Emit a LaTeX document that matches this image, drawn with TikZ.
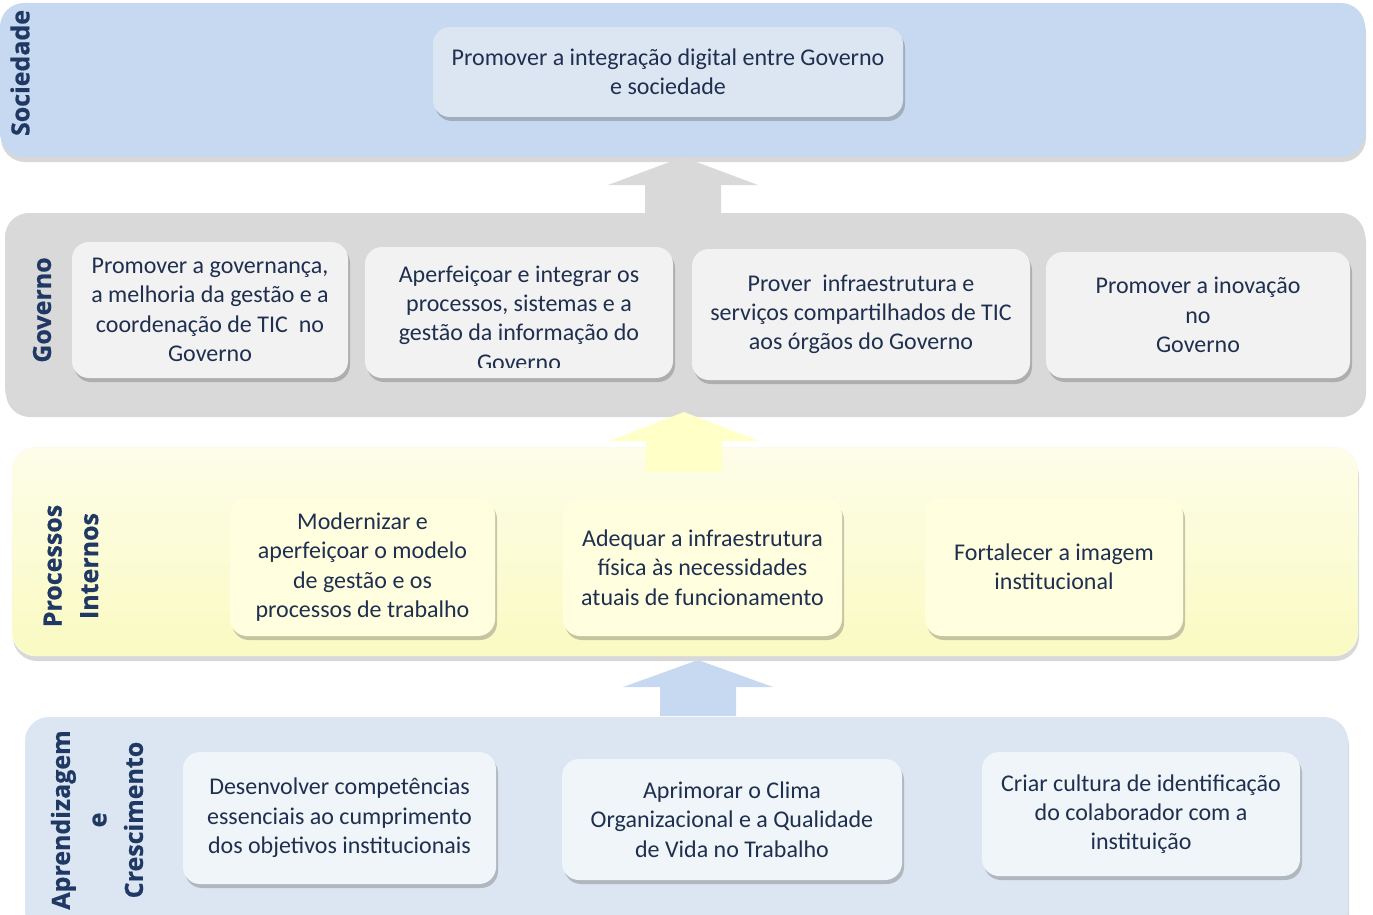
\documentclass[tikz,border=0pt]{standalone}
\usepackage{fontspec}
\setmainfont{Carlito}
\newfontfamily\lblfont{Open Sans}[BoldFeatures={FakeBold=0.6}]
\usepackage{tikz}
\usetikzlibrary{shadows}
\usepackage{xcolor}

\definecolor{socfill}{HTML}{C6D9F0}
\definecolor{socbox}{HTML}{DCE6F2}
\definecolor{govfill}{HTML}{D9D9D9}
\definecolor{govbox}{HTML}{F2F2F2}
\definecolor{procfill}{HTML}{FAFAC2}
\definecolor{procbox}{HTML}{FFFFDF}
\definecolor{procarrow}{HTML}{FFFFC8}
\definecolor{aprfill}{HTML}{DCE6F2}
\definecolor{aprbox}{HTML}{EFF5F8}
\definecolor{boxtext}{HTML}{1F2F4F}
\definecolor{lbltext}{HTML}{1F3864}

\begin{document}
\begin{tikzpicture}[x=1pt, y=-1pt]
        % 样式:大色带、目标框、侧边标题
        \tikzstyle{band}=[rectangle, rounded corners=24pt, inner sep=0pt,
            drop shadow={shadow xshift=1pt, shadow yshift=-5pt, opacity=0.22, fill=black!70}]
        \tikzstyle{goal}=[rectangle, rounded corners=17pt, inner sep=0pt, align=center,
            text=boxtext, font=\fontsize{24}{29.3}\selectfont,
            drop shadow={shadow xshift=2pt, shadow yshift=-4pt, opacity=0.3, fill=black!70}]
        \tikzstyle{goaltext}=[inner sep=0pt, align=center, text=boxtext,
            font=\fontsize{24}{29.3}\selectfont]
        \tikzstyle{side}=[rotate=90, align=center, text=lbltext, inner sep=0pt,
            font=\lblfont\bfseries\fontsize{25}{36.5}\selectfont]

        \useasboundingbox (0,0) rectangle (1373,915);

        % 四个层次的色带
        \node[band, fill=socfill, minimum width=1365, minimum height=154] (soc) at (682.5,80) {};
        \node[band, fill=govfill, minimum width=1360, minimum height=199] (gov) at (685,312.5) {};
        \node[band, top color=procfill!35, middle color=procfill, bottom color=procfill,
              draw=procfill!80!black!10, minimum width=1346, minimum height=209] (proc) at (685,551.5) {};
        \node[band, fill=aprfill, minimum width=1323, minimum height=218] (apr) at (686.5,826) {};

        % 向上的粗箭头 (x 中心 / 尖 / 头底 / 尾 / 颜色)
        \foreach \cx/\tip/\hb/\bot/\col in {683/157/185/213/govfill,
                                            684/412/441/472/procarrow,
                                            698/660/687/716/socfill} {
            \fill[\col] (\cx,\tip) -- (\cx+75,\hb) -- (\cx+38,\hb) -- (\cx+38,\bot)
                -- (\cx-38,\bot) -- (\cx-38,\hb) -- (\cx-75,\hb) -- cycle;
        }

        % 侧边标题
        \node[side] (socl) at (20,73) {Sociedade};
        \node[side] (govl) at (42,310) {Governo};
        \node[side] (procl) at (71,566) {Processos\\Internos};
        \node[side] (aprl) at (97,820) {Aprendizagem\\e\\Crescimento};

        % Sociedade
        \node[goal, fill=socbox, minimum width=470, minimum height=90] (s1) at (668,72)
            {Promover a integração digital entre Governo\\e sociedade};

        % Governo
        \node[goal, fill=govbox, minimum width=276, minimum height=136] (g1) at (210,310)
            {Promover a governança,\\a melhoria da gestão e a\\coordenação de TIC\ \ no\\Governo};
        \node[goal, fill=govbox, minimum width=308, minimum height=131] (g2) at (519,312.5) {};
        \begin{scope}
            \clip (365,247) rectangle (673,367);
            \node[goaltext] (g2txt) at (519,318)
                {Aperfeiçoar e integrar os\\processos, sistemas e a\\gestão da informação do\\Governo};
        \end{scope}
        \node[goal, fill=govbox, minimum width=338, minimum height=131] (g3) at (861,314.5)
            {Prover\ \ infraestrutura e\\serviços compartilhados de TIC\\aos órgãos do Governo};
        \node[goal, fill=govbox, minimum width=304, minimum height=126] (g4) at (1198,315)
            {Promover a inovação\\no\\Governo};

        % Processos Internos
        \node[goal, fill=procbox, minimum width=265, minimum height=138] (p1) at (362.5,567)
            {Modernizar e\\aperfeiçoar o modelo\\de gestão e os\\processos de trabalho};
        \node[goal, fill=procbox, minimum width=279, minimum height=137] (p2) at (702.5,567.5)
            {Adequar a infraestrutura\\física às necessidades\\atuais de funcionamento};
        \node[goal, fill=procbox, minimum width=258, minimum height=138] (p3) at (1054,567)
            {Fortalecer a imagem\\institucional};

        % Aprendizagem e Crescimento
        \node[goal, fill=aprbox, minimum width=313, minimum height=132] (a1) at (339.5,818)
            {Desenvolver competências\\essenciais ao cumprimento\\dos objetivos institucionais};
        \node[goal, fill=aprbox, minimum width=340, minimum height=121] (a2) at (732,819.5)
            {Aprimorar o Clima\\Organizacional e a Qualidade\\de Vida no Trabalho};
        \node[goal, fill=aprbox, minimum width=318, minimum height=124] (a3) at (1141,814)
            {Criar cultura de identificação\\do colaborador com a\\instituição};
    \end{tikzpicture}
\end{document}
